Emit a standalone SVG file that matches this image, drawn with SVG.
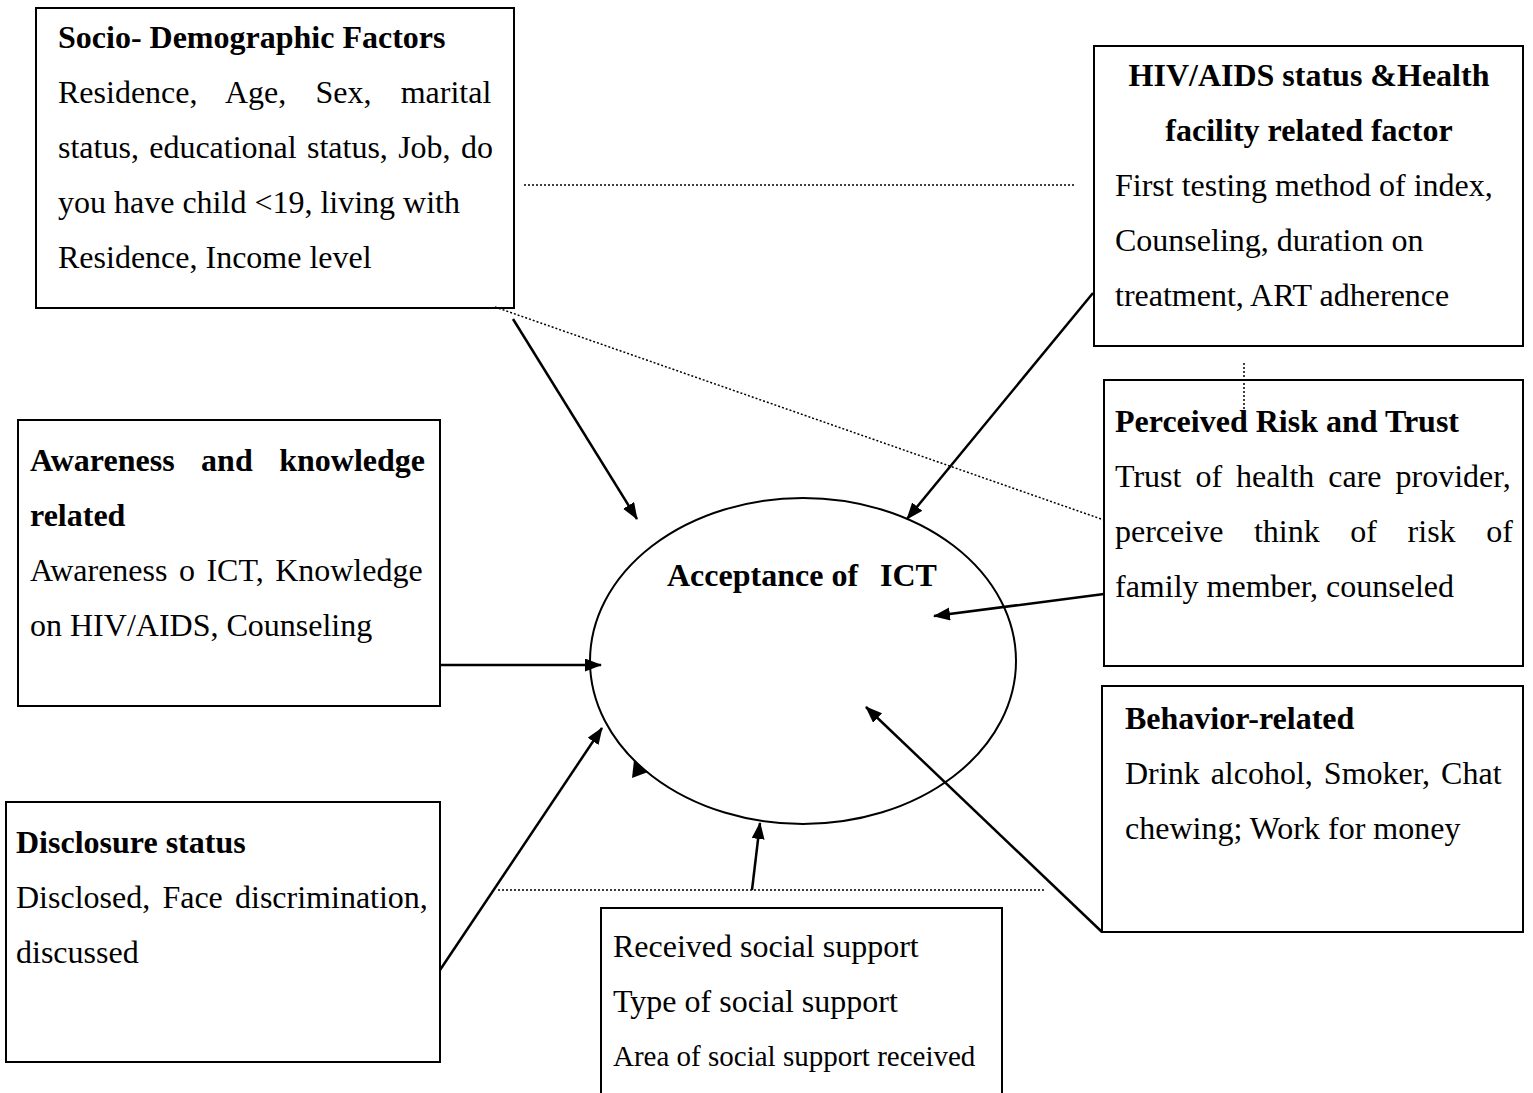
<svg xmlns="http://www.w3.org/2000/svg" width="1533" height="1093" viewBox="0 0 1533 1093">
<style>
.box{fill:#fff;stroke:#000;stroke-width:2}
.t{font-family:"Liberation Serif","Times New Roman",serif;font-size:32px;fill:#000}
.b{font-weight:bold}
.arr{stroke:#000;stroke-width:2.5;fill:none;marker-end:url(#ah)}
.dot{stroke:#000;stroke-width:1.5;stroke-dasharray:2,2;fill:none}
</style>
<defs>
<marker id="ah" markerUnits="userSpaceOnUse" markerWidth="17" markerHeight="14" refX="16" refY="6.5" orient="auto">
<path d="M0,0 L17,6.5 L0,13 z" fill="#000"/>
</marker>
</defs>
<rect width="1533" height="1093" fill="#fff"/>

<g id="acceptance">
<ellipse cx="803" cy="661" rx="213" ry="163" fill="none" stroke="#000" stroke-width="2"/>
<text class="t b" x="667" y="586">Acceptance of</text>
<text class="t b" x="880" y="586">ICT</text>
</g>

<g id="socio">
<rect class="box" x="36" y="8" width="478" height="300"/>
<text class="t b" x="58" y="48">Socio- Demographic Factors</text>
<text class="t" x="58" y="103" word-spacing="21.2">Residence, Age, Sex, marital</text>
<text class="t" x="58" y="158" word-spacing="2.3">status, educational status, Job, do</text>
<text class="t" x="58" y="213">you have child &lt;19, living with</text>
<text class="t" x="58" y="268">Residence, Income level</text>
</g>

<g id="hiv">
<rect class="box" x="1094" y="46" width="429" height="300"/>
<text class="t b" x="1309" y="86" text-anchor="middle">HIV/AIDS status &amp;Health</text>
<text class="t b" x="1309" y="141" text-anchor="middle">facility related factor</text>
<text class="t" x="1115" y="196">First testing method of index,</text>
<text class="t" x="1115" y="251">Counseling, duration on</text>
<text class="t" x="1115" y="306">treatment, ART adherence</text>
</g>

<g id="perceived">
<rect class="box" x="1104" y="380" width="419" height="286"/>
<text class="t b" x="1115" y="432">Perceived Risk and Trust</text>
<text class="t" x="1115" y="487" word-spacing="6">Trust of health care provider,</text>
<text class="t" x="1115" y="542" word-spacing="22.6">perceive think of risk of</text>
<text class="t" x="1115" y="597">family member, counseled</text>
</g>

<g id="awareness">
<rect class="box" x="18" y="420" width="422" height="286"/>
<text class="t b" x="30" y="471" word-spacing="18.5">Awareness and knowledge</text>
<text class="t b" x="30" y="526">related</text>
<text class="t" x="30" y="581" word-spacing="3.5">Awareness o ICT, Knowledge</text>
<text class="t" x="30" y="636">on HIV/AIDS, Counseling</text>
</g>

<g id="behavior">
<rect class="box" x="1102" y="686" width="421" height="246"/>
<text class="t b" x="1125" y="729">Behavior-related</text>
<text class="t" x="1125" y="784" word-spacing="3">Drink alcohol, Smoker, Chat</text>
<text class="t" x="1125" y="839">chewing; Work for money</text>
</g>

<g id="disclosure">
<rect class="box" x="6" y="802" width="434" height="260"/>
<text class="t b" x="16" y="853">Disclosure status</text>
<text class="t" x="16" y="908" word-spacing="4.2">Disclosed, Face discrimination,</text>
<text class="t" x="16" y="963">discussed</text>
</g>

<g id="social">
<rect class="box" x="601" y="908" width="401" height="200"/>
<text class="t" x="613" y="957">Received social support</text>
<text class="t" x="613" y="1012">Type of social support</text>
<text class="t" x="613" y="1066" style="font-size:29px">Area of social support received</text>
</g>

<g id="connectors">
<line class="dot" x1="524" y1="185" x2="1074" y2="185"/>
<line class="dot" x1="495" y1="307" x2="1104" y2="520"/>
<line class="dot" x1="1244" y1="363" x2="1244" y2="410"/>
<line class="dot" x1="498" y1="890" x2="1045" y2="890"/>
<line class="arr" x1="513" y1="319" x2="637" y2="519"/>
<line class="arr" x1="1093" y1="293" x2="907" y2="519"/>
<line class="arr" x1="1104" y1="594" x2="934" y2="616"/>
<line class="arr" x1="440" y1="665" x2="601" y2="665"/>
<line class="arr" x1="440" y1="970" x2="602" y2="728"/>
<line class="arr" x1="752" y1="890" x2="760" y2="823"/>
<line class="arr" x1="1102" y1="932" x2="866" y2="707"/>
<polygon points="634,760 632,778 648,772" fill="#000"/>
</g>
</svg>
